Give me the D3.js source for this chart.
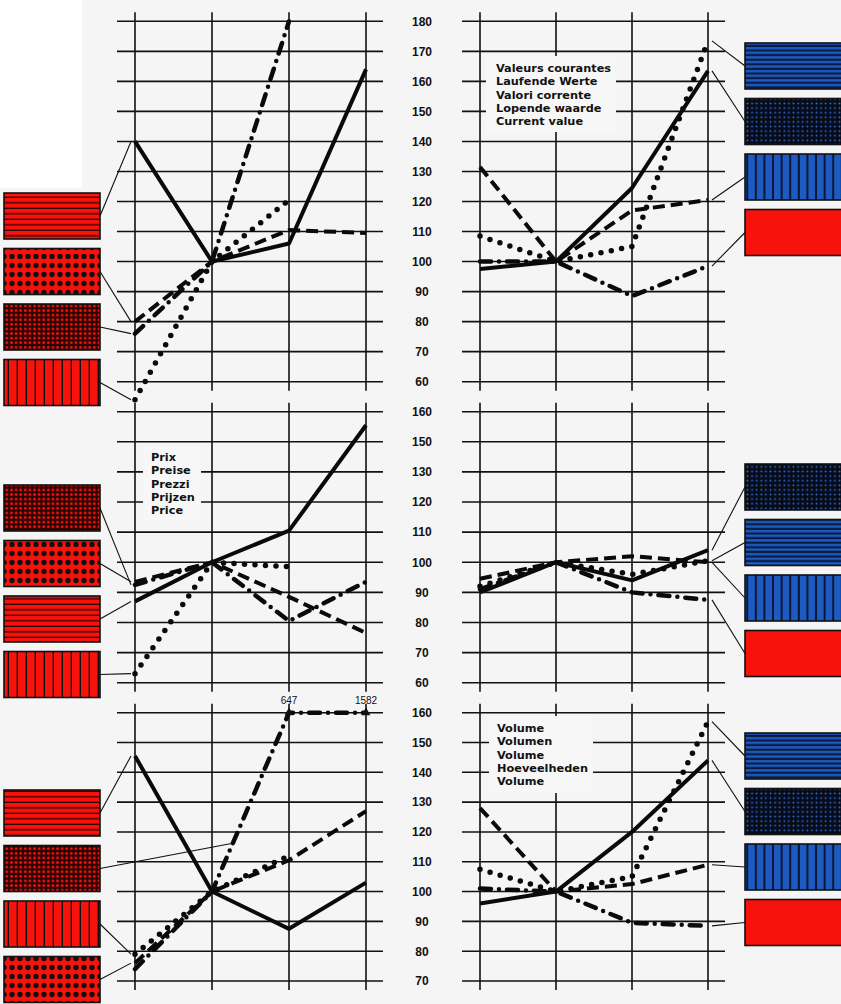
<!DOCTYPE html>
<html>
<head>
<meta charset="utf-8">
<script src="https://cdn.jsdelivr.net/npm/d3@7"></script>
<style>
  html, body { margin: 0; padding: 0; background: #f5f5f5; }
  svg { display: block; }
  .tick-lbl { font-family: "Liberation Sans", Arial, sans-serif; font-weight: bold; font-size: 12px; fill: #111; }
  .note     { font-family: "DejaVu Sans", sans-serif; font-weight: bold; font-size: 11.3px; fill: #111; }
  .over-lbl { font-family: "Liberation Sans Narrow", "Liberation Sans", sans-serif; font-size: 10px; fill: #111; }
</style>
</head>
<body>
<svg id="chart"></svg>
<script>
// ── Data ──────────────────────────────────────────────────────────────────────
// Four (unlabelled) periods on the x axis, index base = 100 at the 2nd period
const periods = ["P1", "P2", "P3", "P4"];

// y ticks (the middle scale prints 150/160 where 140/150 belong)
const ticksTop   = [60, 70, 80, 90, 100, 110, 120, 130, 140, 150, 160, 170, 180];
const ticksMid   = [60, 70, 80, 90, 100, 110, 120, 130, 140, 150];
const labelsMid  = ["60", "70", "80", "90", "100", "110", "120", "130", "150", "160"];
const ticksBot   = [70, 80, 90, 100, 110, 120, 130, 140, 150, 160];

// Valeurs courantes / current value
const curLeftSolid    = [140, 100, 106, 164];
const curLeftDashed   = [80, 100, 110.5, 109.5];
const curLeftDashDot  = [76, 100, 180, null];
const curLeftDotted   = [54, 100, 120.5, null];
const curRightSolid   = [97.5, 100, 124.5, 163.5];
const curRightDashed  = [131.5, 100, 117, 120.5];
const curRightDotted  = [108.5, 100, 105, 173.5];
const curRightDashDot = [100, 100, 88.5, 98.5];

// Prix / price
const priceLeftSolid    = [87, 100, 110.5, 145.5];
const priceLeftDashed   = [93.5, 100, 88.5, 76.5];
const priceLeftDashDot  = [92.5, 100, 80.5, 93.5];
const priceLeftDotted   = [63, 100, 98.5, null];
const priceRightSolid   = [90, 100, 94, 104];
const priceRightDashed  = [94.5, 100, 102, 100];
const priceRightDotted  = [92, 100, 96, 100.5];
const priceRightDashDot = [91, 100, 90, 87.5];

// Volume
const volLeftSolid    = [145.5, 100, 87.5, 103];
const volLeftDashed   = [76, 100, 110.5, 127];
const volLeftDashDot  = [74, 100, 647, 1582];
const volLeftDotted   = [79, 100, 112, null];
const volRightSolid   = [96, 100, 120, 144];
const volRightDashed  = [128, 100, 102.5, 109];
const volRightDotted  = [107.5, 100, 105, 157];
const volRightDashDot = [101, 100, 89.5, 88.5];

const noteCur   = ["Valeurs courantes", "Laufende Werte", "Valori corrente", "Lopende waarde", "Current value"];
const notePrice = ["Prix", "Preise", "Prezzi", "Prijzen", "Price"];
const noteVol   = ["Volume", "Volumen", "Volume", "Hoeveelheden", "Volume"];

// ── Setup ─────────────────────────────────────────────────────────────────────
const VW = 841, VH = 1004;
const svg = d3.select("#chart").attr("width", VW).attr("height", VH);
svg.append("rect").attr("width", VW).attr("height", VH).attr("fill", "#f5f5f5");
svg.append("rect").attr("width", 82).attr("height", 188).attr("fill", "#fff");

const RED = "#f8120c", BLUE = "#1d5bc2";
const defs = svg.append("defs");

function pattern(id, w, h, bg, draw) {
  const p = defs.append("pattern").attr("id", id)
    .attr("patternUnits", "userSpaceOnUse").attr("width", w).attr("height", h);
  p.append("rect").attr("width", w).attr("height", h).attr("fill", bg);
  draw(p);
}
pattern("redHoriz", 10, 5.5, RED, p => p.append("rect").attr("y", 4.2).attr("width", 10).attr("height", 1.3).attr("fill", "#2a0505"));
pattern("redBigDots", 8, 9, RED, p => p.append("circle").attr("cx", 4).attr("cy", 4.5).attr("r", 2.7).attr("fill", "#111"));
pattern("redSmallDots", 4.6, 4.6, "#2b0404", p => p.append("circle").attr("cx", 2.3).attr("cy", 2.3).attr("r", 1.4).attr("fill", RED));
pattern("redVert", 9, 10, RED, p => p.append("rect").attr("x", 7.6).attr("width", 1.4).attr("height", 10).attr("fill", "#111"));
pattern("blueHoriz", 10, 4.6, "#0a1a40", p => p.append("rect").attr("y", 1).attr("width", 10).attr("height", 2.4).attr("fill", BLUE));
pattern("blueDots", 4.6, 4.6, "#070c1a", p => p.append("circle").attr("cx", 2.3).attr("cy", 2.3).attr("r", 0.9).attr("fill", "#2f6fd6"));
pattern("blueVert", 8.6, 10, BLUE, p => p.append("rect").attr("x", 6.6).attr("width", 2).attr("height", 10).attr("fill", "#0a1633"));

const STYLES = {
  solid:   { w: 4,   dash: null,        cap: "butt" },
  dashed:  { w: 4,   dash: "12 6",      cap: "butt" },
  dotted:  { w: 5.5, dash: "0 10.5",    cap: "round" },
  dashdot: { w: 4.5, dash: "11 8 0 8",  cap: "round" }
};

// ── Panels ────────────────────────────────────────────────────────────────────
const LEFT  = { xr: [135, 366], gx: [117, 383], boxX: 4,   side: "left" };
const RIGHT = { xr: [480, 708], gx: [462, 725], boxX: 745, side: "right" };
const ROWS = [
  { dom: [60, 180], rng: [381.7, 21.3], ticks: ticksTop, labels: null },
  { dom: [60, 150], rng: [682.7, 411.7], ticks: ticksMid, labels: labelsMid },
  { dom: [70, 160], rng: [981, 712.7],  ticks: ticksBot, labels: null }
];

const panels = [
  { col: LEFT, row: 0, boxTop: 193,
    series: [["solid", curLeftSolid], ["dashed", curLeftDashed], ["dashdot", curLeftDashDot], ["dotted", curLeftDotted]],
    legend: [["redHoriz", 0], ["redBigDots", 1], ["redSmallDots", 2], ["redVert", 3]] },
  { col: RIGHT, row: 0, boxTop: 43,
    series: [["solid", curRightSolid], ["dashed", curRightDashed], ["dotted", curRightDotted], ["dashdot", curRightDashDot]],
    legend: [["blueHoriz", 2], ["blueDots", 0], ["blueVert", 1], [null, 3]],
    note: { lines: noteCur, x: 496, y: 68, box: [486, 56, 130, 76] } },
  { col: LEFT, row: 1, boxTop: 485,
    series: [["solid", priceLeftSolid], ["dashed", priceLeftDashed], ["dashdot", priceLeftDashDot], ["dotted", priceLeftDotted]],
    legend: [["redSmallDots", 2], ["redBigDots", 1], ["redHoriz", 0], ["redVert", 3]],
    note: { lines: notePrice, x: 151, y: 457, box: [143, 447, 58, 73] } },
  { col: RIGHT, row: 1, boxTop: 464,
    series: [["solid", priceRightSolid], ["dashed", priceRightDashed], ["dotted", priceRightDotted], ["dashdot", priceRightDashDot]],
    legend: [["blueDots", 0], ["blueHoriz", 2], ["blueVert", 1], [null, 3]] },
  { col: LEFT, row: 2, boxTop: 790,
    series: [["solid", volLeftSolid], ["dashed", volLeftDashed], ["dashdot", volLeftDashDot], ["dotted", volLeftDotted]],
    legend: [["redHoriz", 0], ["redSmallDots", 2, 1.27], ["redVert", 3], ["redBigDots", 1]] },
  { col: RIGHT, row: 2, boxTop: 733,
    series: [["solid", volRightSolid], ["dashed", volRightDashed], ["dotted", volRightDotted], ["dashdot", volRightDashDot]],
    legend: [["blueHoriz", 2], ["blueDots", 0], ["blueVert", 1], [null, 3]],
    note: { lines: noteVol, x: 497, y: 728, box: [489, 716, 104, 77] } }
];

// shared centre tick labels
ROWS.forEach(r => {
  const y = d3.scaleLinear().domain(r.dom).range(r.rng);
  svg.append("g").selectAll("text").data(r.ticks).join("text")
    .attr("class", "tick-lbl").attr("x", 422).attr("y", d => y(d)).attr("dy", "0.36em")
    .attr("text-anchor", "middle")
    .text((d, i) => r.labels ? r.labels[i] : d);
});

panels.forEach(p => {
  const r = ROWS[p.row], c = p.col;
  const x = d3.scalePoint().domain(periods).range(c.xr);
  const y = d3.scaleLinear().domain(r.dom).range(r.rng);
  const yMax = r.dom[1];
  const yc = v => y(Math.min(v, yMax));
  const g = svg.append("g");

  // grid
  g.selectAll("line.h").data(r.ticks).join("line")
    .attr("x1", c.gx[0]).attr("x2", c.gx[1])
    .attr("y1", d => y(d)).attr("y2", d => y(d))
    .attr("stroke", "#111").attr("stroke-width", 1.6);
  g.selectAll("line.v").data(periods).join("line")
    .attr("x1", d => x(d)).attr("x2", d => x(d))
    .attr("y1", r.rng[1] - 9).attr("y2", r.rng[0] + 9)
    .attr("stroke", "#111").attr("stroke-width", 1.6);

  // multilingual note on a paper patch
  if (p.note) {
    const n = p.note;
    g.append("rect").attr("x", n.box[0]).attr("y", n.box[1])
      .attr("width", n.box[2]).attr("height", n.box[3]).attr("fill", "#f7f7f7");
    g.selectAll("text.note").data(n.lines).join("text").attr("class", "note")
      .attr("x", n.x).attr("y", (d, i) => n.y + i * 13.3).attr("dy", "0.35em").text(d => d);
  }

  // series
  const line = d3.line().defined(d => d != null)
    .x((d, i) => x(periods[i])).y(d => yc(d));
  p.series.forEach(([style, vals]) => {
    const s = STYLES[style];
    g.append("path").datum(vals).attr("d", line)
      .attr("fill", "none").attr("stroke", "#0a0a0a")
      .attr("stroke-width", s.w).attr("stroke-dasharray", s.dash)
      .attr("stroke-linecap", s.cap).attr("stroke-linejoin", "round");
    // off-scale values: arrow + printed value
    vals.forEach((v, i) => {
      if (v == null || v <= yMax) return;
      g.append("path").attr("d", d3.symbol(d3.symbolTriangle, 34))
        .attr("transform", `translate(${x(periods[i])},${y(yMax)})`).attr("fill", "#111");
      g.append("text").attr("class", "over-lbl")
        .attr("x", x(periods[i])).attr("y", y(yMax) - 9)
        .attr("text-anchor", "middle").text(v);
    });
  });

  // legend swatches with leader lines
  const BW = 96, BH = 46, STEP = 55.5;
  p.legend.forEach(([pat, si, anchor], k) => {
    const top = p.boxTop + k * STEP;
    const vals = p.series[si][1];
    const a = anchor != null ? anchor : (c.side === "left" ? 0 : 3);
    const i0 = Math.floor(a), f = a - i0;
    const i1 = Math.min(i0 + 1, 3);
    const px = x(periods[i0]) + f * (x(periods[i1]) - x(periods[i0]));
    const py = yc(vals[i0]) + f * (yc(vals[i1] ?? vals[i0]) - yc(vals[i0]));
    const ex = anchor != null ? px : (c.side === "left" ? px - 4 : px + 4);
    const sx = c.side === "left" ? c.boxX + BW : c.boxX;
    g.append("line").attr("x1", sx).attr("y1", top + BH / 2)
      .attr("x2", ex).attr("y2", py)
      .attr("stroke", "#111").attr("stroke-width", 1.1);
    g.append("rect").attr("x", c.boxX).attr("y", top)
      .attr("width", BW + (c.side === "right" ? 10 : 0)).attr("height", BH)
      .attr("fill", pat ? `url(#${pat})` : RED)
      .attr("stroke", "#111").attr("stroke-width", 1.6);
  });
});
</script>
</body>
</html>
